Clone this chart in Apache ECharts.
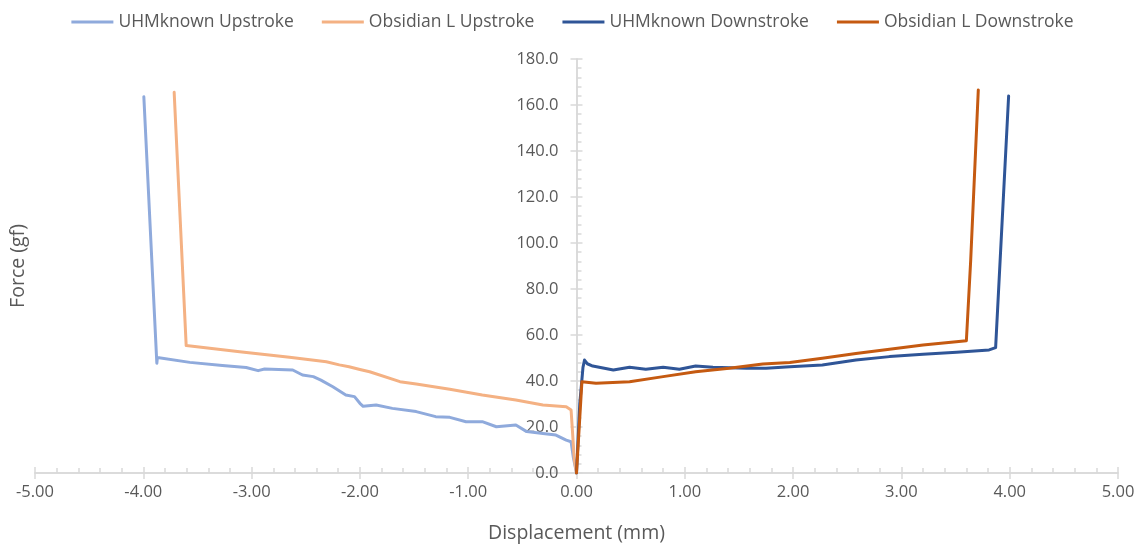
<!DOCTYPE html>
<html>
<head>
<meta charset="utf-8">
<script src="https://cdn.jsdelivr.net/npm/echarts@6/dist/echarts.min.js"></script>
<style>
html,body{margin:0;padding:0;background:#fff;}
#chart{width:1145px;height:546px;}
</style>
</head>
<body>
<div id="chart"></div>
<script>
// ---- data (displacement in mm, force in gf) ----
const seriesNames = ['UHMknown Upstroke', 'Obsidian L Upstroke', 'UHMknown Downstroke', 'Obsidian L Downstroke'];

const uhmUpX = [-3.995, -3.875, -3.87, -3.57, -3.27, -3.05, -2.94, -2.88, -2.62, -2.53, -2.43, -2.36, -2.25, -2.13, -2.05, -2.0, -1.97, -1.85, -1.70, -1.48, -1.30, -1.17, -1.02, -0.87, -0.74, -0.56, -0.46, -0.31, -0.19, -0.095, -0.05, -0.03, 0.0];
const uhmUpY = [163.6, 47.7, 50.2, 48.1, 46.7, 45.9, 44.5, 45.2, 44.8, 42.6, 41.9, 40.4, 37.5, 33.9, 33.2, 30.3, 29.0, 29.6, 28.1, 26.7, 24.5, 24.2, 22.3, 22.3, 20.1, 20.9, 18.0, 17.2, 16.5, 14.3, 13.6, 7.0, 0.0];

const obsUpX = [-3.715, -3.604, -3.11, -2.65, -2.31, -2.19, -2.10, -2.0, -1.91, -1.63, -1.48, -1.17, -0.87, -0.56, -0.31, -0.095, -0.05, -0.02, 0.0];
const obsUpY = [165.5, 55.4, 52.7, 50.3, 48.4, 47.0, 46.2, 45.0, 44.0, 39.7, 38.7, 36.4, 33.9, 31.7, 29.6, 28.8, 27.4, 5.6, 0.0];

const uhmDownX = [0.0, 0.03, 0.06, 0.074, 0.10, 0.15, 0.34, 0.49, 0.64, 0.80, 0.95, 1.10, 1.26, 1.57, 1.75, 1.97, 2.27, 2.58, 2.89, 3.20, 3.51, 3.81, 3.87, 3.99];
const uhmDownY = [0.0, 30.0, 46.0, 49.1, 47.5, 46.5, 44.8, 46.0, 45.1, 46.0, 45.1, 46.5, 46.0, 45.5, 45.5, 46.2, 47.0, 49.1, 50.6, 51.6, 52.5, 53.5, 54.5, 163.9];

const obsDownX = [0.0, 0.05, 0.18, 0.49, 0.80, 1.10, 1.41, 1.72, 1.97, 2.27, 2.58, 2.89, 3.20, 3.60, 3.64, 3.71];
const obsDownY = [0.0, 39.7, 39.0, 39.7, 41.9, 44.0, 45.5, 47.4, 48.0, 49.9, 52.0, 53.8, 55.7, 57.5, 92.6, 166.5];

const xTicks = [-5, -4, -3, -2, -1, 0, 1, 2, 3, 4, 5];
const yTicks = [0, 20, 40, 60, 80, 100, 120, 140, 160, 180];

const xTitle = 'Displacement (mm)';
const yTitle = 'Force (gf)';

// ---- styling ----
const colors = ['#8FAADC', '#F4B183', '#2F5597', '#C55A11'];
const FONT = 'Open Sans';
const textColor = '#595959';
const axisColor = '#D9D9D9';

function zip(xs, ys) { return xs.map((x, i) => [x, ys[i]]); }
const allData = [zip(uhmUpX, uhmUpY), zip(obsUpX, obsUpY), zip(uhmDownX, uhmDownY), zip(obsDownX, obsDownY)];

const xMin = xTicks[0], xMax = xTicks[xTicks.length - 1];
const yMin = yTicks[0], yMax = yTicks[yTicks.length - 1];
const xInt = xTicks[1] - xTicks[0], yInt = yTicks[1] - yTicks[0];

const W = 1145;
const gridL = 35, gridR = 27;
// y axis crosses the x axis at x = 0
const yAxisOffset = -((W - gridL - gridR) * (0 - xMin) / (xMax - xMin));

const chart = echarts.init(document.getElementById('chart'), null, { renderer: 'canvas' });

const baseX = {
  type: 'value', min: xMin, max: xMax, interval: xInt, position: 'bottom',
  axisLine: { onZero: false, lineStyle: { color: axisColor, width: 1.5 } },
  splitLine: { show: false }
};
const baseY = {
  type: 'value', min: yMin, max: yMax, interval: yInt, position: 'left', offset: yAxisOffset,
  axisLine: { onZero: false, lineStyle: { color: axisColor, width: 1.5 } },
  splitLine: { show: false }
};

const option = {
  animation: false,
  backgroundColor: '#ffffff',
  color: colors,
  grid: { left: gridL, right: gridR, top: 59, bottom: 73, containLabel: false, outerBoundsMode: 'none' },
  legend: {
    top: 8, left: 'center',
    itemWidth: 42, itemHeight: 3, itemGap: 28,
    icon: 'rect',
    textStyle: { fontFamily: FONT, fontSize: 17.5, color: textColor },
    data: seriesNames
  },
  xAxis: [
    Object.assign({}, baseX, {
      axisTick: { show: true, inside: true, length: 6, lineStyle: { color: axisColor, width: 1.5 } },
      minorTick: { show: true, splitNumber: 5, length: 5, lineStyle: { color: axisColor, width: 1.5 } },
      axisLabel: {
        fontFamily: FONT, fontSize: 16.5, color: textColor, margin: 11,
        formatter: v => v.toFixed(2)
      },
      name: xTitle, nameLocation: 'middle', nameGap: 50,
      nameTextStyle: { fontFamily: FONT, fontSize: 19.5, color: textColor }
    }),
    Object.assign({}, baseX, {
      axisTick: { show: true, inside: false, length: 6, lineStyle: { color: axisColor, width: 1.5 } },
      axisLabel: { show: false }
    })
  ],
  yAxis: [
    Object.assign({}, baseY, {
      axisTick: { show: true, inside: true, length: 6, lineStyle: { color: axisColor, width: 1.5 } },
      minorTick: { show: true, splitNumber: 5, length: 5, lineStyle: { color: axisColor, width: 1.5 } },
      axisLabel: {
        fontFamily: FONT, fontSize: 16.5, color: textColor, margin: 18,
        formatter: v => v.toFixed(1)
      }
    }),
    Object.assign({}, baseY, {
      axisTick: { show: true, inside: false, length: 6, lineStyle: { color: axisColor, width: 1.5 } },
      axisLabel: { show: false }
    })
  ],
  graphic: [{
    type: 'text', x: 18, y: 266, rotation: Math.PI / 2,
    style: { text: yTitle, fontFamily: FONT, fontSize: 19.5, fill: textColor, align: 'center', verticalAlign: 'middle' }
  }],
  series: allData.map((d, i) => ({
    name: seriesNames[i], type: 'line', data: d,
    xAxisIndex: 0, yAxisIndex: 0,
    showSymbol: false, symbol: 'none',
    lineStyle: { width: 3, color: colors[i], join: 'round', cap: 'round' },
    itemStyle: { color: colors[i] }
  }))
};
chart.setOption(option);
</script>
</body>
</html>
